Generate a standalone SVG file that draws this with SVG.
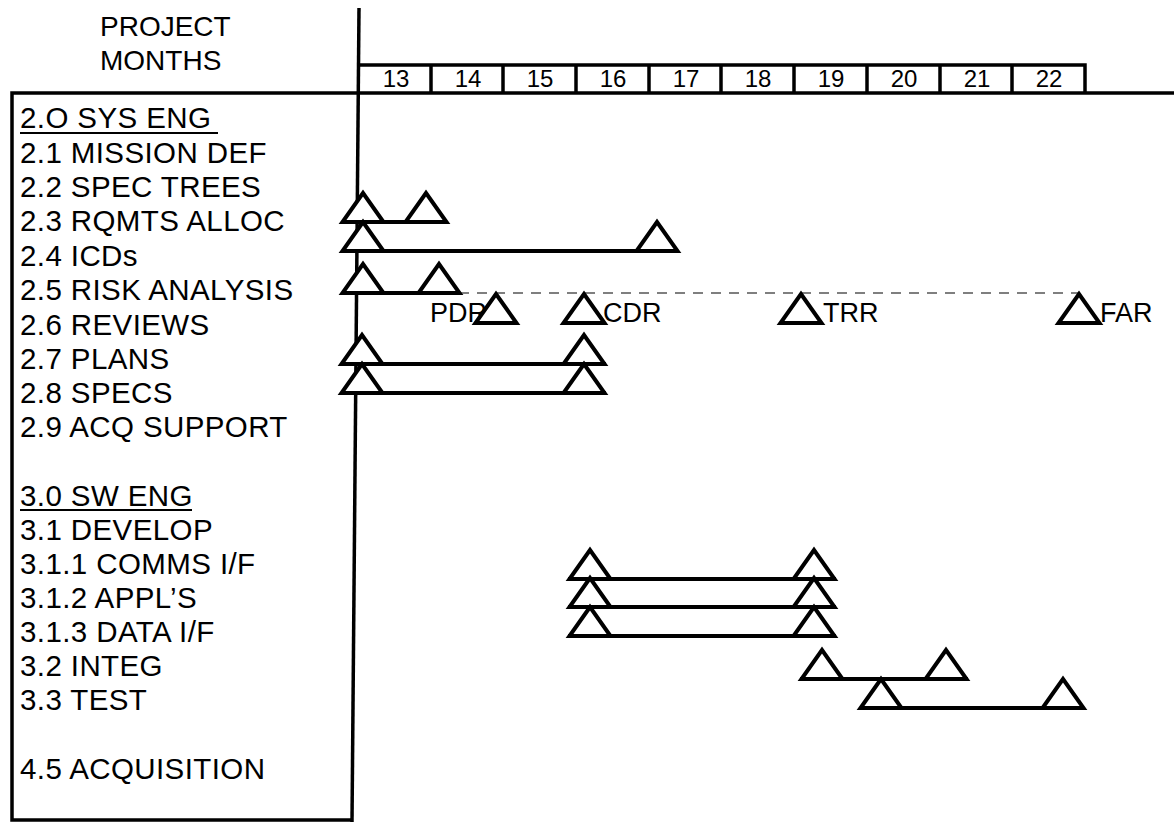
<svg xmlns="http://www.w3.org/2000/svg" xmlns:xlink="http://www.w3.org/1999/xlink" width="1174" height="823" viewBox="0 0 1174 823">
<style>
  .lbl{font-family:"Liberation Sans",Arial,sans-serif;font-size:29.5px;letter-spacing:0.4px;fill:#000}
  .hd{font-family:"Liberation Sans",Arial,sans-serif;font-size:28px;fill:#000}
  .mo{font-family:"Liberation Sans",Arial,sans-serif;font-size:24px;fill:#000;text-anchor:middle}
  .ms{font-family:"Liberation Sans",Arial,sans-serif;font-size:27px;fill:#000}
  .frame{stroke:#000;stroke-width:3.5;fill:none}
  .bar{stroke:#000;stroke-width:4;fill:none}
  .dash{stroke:#555;stroke-width:1.5;stroke-dasharray:10 8;fill:none}
  .tri{stroke:#000;stroke-width:4;fill:#fff;stroke-linejoin:miter}
  .ul{stroke:#000;stroke-width:2}
</style>
<defs>
  <path id="tri" d="M-20.5,0 L20.5,0 L0,-29 Z"/>
</defs>
<rect width="1174" height="823" fill="#fff"/>

<g id="frame">
  <line class="frame" x1="359" y1="8" x2="352" y2="822"/>
  <polyline class="frame" points="352,820 12,820 12,93 1174,93"/>
  <polyline class="frame" points="358,65 1085,65 1085,93"/>
  <line class="frame" x1="431" y1="65" x2="431" y2="93"/>
  <line class="frame" x1="503" y1="65" x2="503" y2="93"/>
  <line class="frame" x1="576" y1="65" x2="576" y2="93"/>
  <line class="frame" x1="649" y1="65" x2="649" y2="93"/>
  <line class="frame" x1="721" y1="65" x2="721" y2="93"/>
  <line class="frame" x1="794" y1="65" x2="794" y2="93"/>
  <line class="frame" x1="867" y1="65" x2="867" y2="93"/>
  <line class="frame" x1="940" y1="65" x2="940" y2="93"/>
  <line class="frame" x1="1012" y1="65" x2="1012" y2="93"/>
</g>

<g id="header">
  <text class="hd" x="100" y="36">PROJECT</text>
  <text class="hd" x="100" y="70">MONTHS</text>
</g>

<g id="months">
  <text class="mo" x="396" y="87">13</text>
  <text class="mo" x="468" y="87">14</text>
  <text class="mo" x="540" y="87">15</text>
  <text class="mo" x="613" y="87">16</text>
  <text class="mo" x="686" y="87">17</text>
  <text class="mo" x="758" y="87">18</text>
  <text class="mo" x="831" y="87">19</text>
  <text class="mo" x="904" y="87">20</text>
  <text class="mo" x="977" y="87">21</text>
  <text class="mo" x="1049" y="87">22</text>
</g>

<g id="labels">
  <g id="l20"><text class="lbl" x="20" y="128">2.O SYS ENG</text><line class="ul" x1="20" y1="133" x2="218" y2="133"/></g>
  <g id="l21"><text class="lbl" x="20" y="163">2.1 MISSION DEF</text></g>
  <g id="l22"><text class="lbl" x="20" y="197">2.2 SPEC TREES</text></g>
  <g id="l23"><text class="lbl" x="20" y="231">2.3 RQMTS ALLOC</text></g>
  <g id="l24"><text class="lbl" x="20" y="266">2.4 ICDs</text></g>
  <g id="l25"><text class="lbl" x="20" y="300">2.5 RISK ANALYSIS</text></g>
  <g id="l26"><text class="lbl" x="20" y="335">2.6 REVIEWS</text></g>
  <g id="l27"><text class="lbl" x="20" y="369">2.7 PLANS</text></g>
  <g id="l28"><text class="lbl" x="20" y="403">2.8 SPECS</text></g>
  <g id="l29"><text class="lbl" x="20" y="437">2.9 ACQ SUPPORT</text></g>
  <g id="l30"><text class="lbl" x="20" y="506">3.0 SW ENG</text><line class="ul" x1="20" y1="510" x2="192" y2="510"/></g>
  <g id="l31"><text class="lbl" x="20" y="540">3.1 DEVELOP</text></g>
  <g id="l311"><text class="lbl" x="20" y="574">3.1.1 COMMS I/F</text></g>
  <g id="l312"><text class="lbl" x="20" y="608">3.1.2 APPL’S</text></g>
  <g id="l313"><text class="lbl" x="20" y="642">3.1.3 DATA I/F</text></g>
  <g id="l32"><text class="lbl" x="20" y="676">3.2 INTEG</text></g>
  <g id="l33"><text class="lbl" x="20" y="710">3.3 TEST</text></g>
  <g id="l45"><text class="lbl" x="20" y="779">4.5 ACQUISITION</text></g>
</g>

<g id="connectors">
  <line class="bar" x1="342" y1="222" x2="447" y2="222"/>
  <line class="bar" x1="342" y1="251" x2="678" y2="251"/>
  <line class="bar" x1="342" y1="293" x2="459" y2="293"/>
  <line class="dash" x1="459" y1="293" x2="1078" y2="293"/>
  <line class="bar" x1="342" y1="364" x2="606" y2="364"/>
  <line class="bar" x1="342" y1="393" x2="606" y2="393"/>
  <line class="bar" x1="568" y1="579" x2="836" y2="579"/>
  <line class="bar" x1="568" y1="607" x2="836" y2="607"/>
  <line class="bar" x1="568" y1="636" x2="836" y2="636"/>
  <line class="bar" x1="800" y1="679" x2="968" y2="679"/>
  <line class="bar" x1="860" y1="708" x2="1084" y2="708"/>
</g>

<g id="m23"><use xlink:href="#tri" class="tri" x="363" y="222"/><use xlink:href="#tri" class="tri" x="426" y="222"/></g>
<g id="m24"><use xlink:href="#tri" class="tri" x="363" y="251"/><use xlink:href="#tri" class="tri" x="657" y="251"/></g>
<g id="m25"><use xlink:href="#tri" class="tri" x="363" y="293"/><use xlink:href="#tri" class="tri" x="439" y="293"/></g>
<g id="m26">
  <text class="ms" x="430" y="322">PDR</text>
  <use xlink:href="#tri" class="tri" x="496" y="323"/>
  <use xlink:href="#tri" class="tri" x="584" y="323"/>
  <text class="ms" x="603" y="322">CDR</text>
  <use xlink:href="#tri" class="tri" x="801" y="323"/>
  <text class="ms" x="823" y="322">TRR</text>
  <use xlink:href="#tri" class="tri" x="1079" y="323"/>
  <text class="ms" x="1100" y="322">FAR</text>
</g>
<g id="m27"><use xlink:href="#tri" class="tri" x="362" y="364"/><use xlink:href="#tri" class="tri" x="584" y="364"/></g>
<g id="m28"><use xlink:href="#tri" class="tri" x="362" y="393"/><use xlink:href="#tri" class="tri" x="584" y="393"/></g>
<g id="m311"><use xlink:href="#tri" class="tri" x="590" y="579"/><use xlink:href="#tri" class="tri" x="814" y="579"/></g>
<g id="m312"><use xlink:href="#tri" class="tri" x="590" y="607"/><use xlink:href="#tri" class="tri" x="814" y="607"/></g>
<g id="m313"><use xlink:href="#tri" class="tri" x="590" y="636"/><use xlink:href="#tri" class="tri" x="814" y="636"/></g>
<g id="m32"><use xlink:href="#tri" class="tri" x="822" y="679"/><use xlink:href="#tri" class="tri" x="946" y="679"/></g>
<g id="m33"><use xlink:href="#tri" class="tri" x="881" y="708"/><use xlink:href="#tri" class="tri" x="1063" y="708"/></g>
</svg>
